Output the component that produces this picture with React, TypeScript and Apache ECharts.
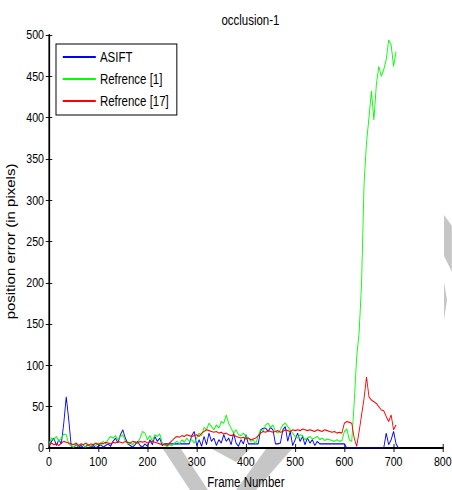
import React, { useEffect, useRef } from "react";
import * as echarts from "echarts";

const FRAME_STEP = 5;
const X_TICKS = [0, 100, 200, 300, 400, 500, 600, 700, 800];
const SERIES_NAMES = ["ASIFT", "Refrence [1]", "Refrence [17]"];

const asift = [
  2, 8, 12, 3, 10, 5, 30, 62, 35, 3,
  0, 4, 1, 3, 0, 2, 4, 1, 3, 0,
  2, 4, 1, 3, 5, 2, 8, 12, 6, 16,
  22, 12, 5, 3, 1, 4, 8, 3, 1, 5,
  2, 10, 4, 14, 8, 12, 3, 5, 5, 5,
  5, 5, 5, 5, 5, 5, 5, 5, 15, 20,
  3, 10, 2, 14, 4, 18, 8, 12, 3, 10,
  6, 16, 8, 12, 4, 18, 6, 2, 10, 5,
  16, 5, 5, 5, 5, 5, 22, 24, 24, 20,
  25, 22, 5, 5, 6, 22, 26, 8, 20, 3,
  10, 18, 8, 14, 4, 12, 6, 10, 3, 8,
  5, 5, 5, 5, 5, 5, 5, 5, 5, 5,
  5, 0, 0, 0, 0, 0, 0, 0, 0, 0,
  0, 0, 0, 0, 0, 0, 0, 18, 4, 10,
  20, 5, 0,
];

const ref1 = [
  5, 12, 10, 14, 8, 12, 17, 16, 5, 3,
  1, 4, 2, 5, 3, 1, 4, 2, 5, 3,
  6, 4, 8, 5, 10, 14, 12, 15, 10, 14,
  16, 8, 5, 6, 4, 8, 6, 12, 20, 18,
  10, 15, 8, 16, 14, 17, 6, 3, 2, 4,
  3, 6, 8, 5, 10, 7, 12, 8, 10, 6,
  12, 18, 15, 25, 22, 30, 26, 22, 28, 24,
  32, 30, 40, 30, 24, 18, 22, 16, 15, 18,
  14, 12, 8, 10, 5, 15, 22, 20, 28, 30,
  25, 28, 20, 18, 22, 28, 30, 26, 22, 18,
  14, 12, 16, 15, 10, 12, 14, 11, 12, 14,
  10, 12, 9, 11, 10, 9, 8, 10, 8, 9,
  20, 23, 10, 8, 55, 110, 140, 200, 320, 370,
  400, 432, 397, 440, 462, 450, 458, 470, 494, 488,
  462, 480, null,
];

const ref17 = [
  3, 6, 4, 5, 3, 6, 8, 7, 6, 5,
  4, 6, 3, 5, 4, 6, 3, 5, 4, 6,
  4, 6, 5, 7, 6, 5, 7, 6, 8, 7,
  6, 8, 7, 6, 8, 7, 6, 8, 7, 8,
  6, 7, 8, 7, 6, 5, 4, 5, 3, 6,
  9, 12, 14, 13, 15, 14, 16, 15, 14, 15,
  16, 14, 18, 20, 22, 21, 20, 19, 20, 18,
  19, 17, 18, 16, 15, 16, 14, 13, 12, 13,
  11, 12, 10, 11, 12, 15, 18, 20, 19, 21,
  20, 19, 20, 21, 19, 20, 22, 21, 20, 22,
  21, 22, 21, 23, 22, 21, 22, 21, 20, 22,
  21, 20, 22, 21, 20, 19, 20, 18, 19, 18,
  30, 32, 31, 30, 12, 2, 20, 40, 60, 86,
  62, 58, 56, 54, 50, 46, 45, 38, 32, 40,
  22, 28, null,
];

const COLORS = ["#0000ff", "#00ff00", "#ff0000"];
const FONT = "'Liberation Sans', Arial, Helvetica, sans-serif";

// The reference figure is horizontally squeezed; draw wider and scale down.
const SX = 0.82;
const W = 452;
const H = 490;
const CW = Math.round(W / SX);
const sx = (x: number) => x / SX;

const toPairs = (vals: (number | null)[]) =>
  vals.map((v, i) => [i * FRAME_STEP, v]);

export default function App() {
  const ref = useRef<HTMLDivElement>(null);
  useEffect(() => {
    if (!ref.current) return;
    const chart = echarts.init(ref.current, null, { renderer: "svg" });
    const axisLine = { show: true, lineStyle: { color: "#000", width: 1.2 } };
    const tick = { show: true, inside: true, length: 4, lineStyle: { color: "#000" } };
    const gray = "#c6c6c6";
    const poly = (pts: number[][]) => ({
      type: "polygon",
      z: -10,
      shape: { points: pts.map(([x, y]) => [sx(x), y]) },
      style: { fill: gray },
    });
    chart.setOption({
      animation: false,
      backgroundColor: "#fff",
      title: {
        text: "occlusion-1",
        left: sx(246) - 35,
        top: 8,
        textStyle: { fontFamily: FONT, fontSize: 14, fontWeight: "normal", color: "#000" },
      },
      grid: {
        left: sx(49),
        right: sx(9),
        top: 35,
        bottom: 42,
        containLabel: false,
        outerBoundsMode: "none",
      },
      legend: {
        orient: "vertical",
        left: sx(56),
        top: 44,
        data: SERIES_NAMES,
        borderColor: "#000",
        borderWidth: 1.2,
        backgroundColor: "#fff",
        padding: [6, sx(8), 7, sx(6)],
        itemWidth: sx(33),
        itemHeight: 14,
        itemGap: 8,
        itemStyle: { opacity: 0 },
        textStyle: { fontFamily: FONT, fontSize: 14, color: "#000" },
      },
      xAxis: [
        {
          type: "value",
          min: 0,
          max: 800,
          interval: 100,
          position: "bottom",
          axisLine: { show: true, lineStyle: { color: "#000", width: 2 } },
          axisTick: tick,
          splitLine: { show: false },
          axisLabel: {
            fontFamily: FONT,
            fontSize: 13,
            color: "#000",
            margin: 7,
            formatter: (v: number) => (X_TICKS.includes(v) ? String(v) : ""),
          },
          name: "Frame Number",
          nameLocation: "middle",
          nameGap: 27,
          nameTextStyle: { fontFamily: FONT, fontSize: 14, color: "#000" },
        },
        {
          type: "value",
          min: 0,
          max: 800,
          interval: 100,
          position: "top",
          axisLine,
          axisTick: tick,
          splitLine: { show: false },
          axisLabel: { show: false },
        },
      ],
      yAxis: [
        {
          type: "value",
          min: 0,
          max: 500,
          interval: 50,
          position: "left",
          axisLine: { show: true, lineStyle: { color: "#000", width: 2 } },
          axisTick: tick,
          splitLine: { show: false },
          axisLabel: { fontFamily: FONT, fontSize: 13, color: "#000", margin: sx(5) },
          name: "position error (in pixels)",
          nameLocation: "middle",
          nameGap: 33,
          nameTextStyle: { fontFamily: FONT, fontSize: 15, color: "#000" },
        },
        {
          type: "value",
          min: 0,
          max: 500,
          interval: 50,
          position: "right",
          axisLine,
          axisTick: tick,
          splitLine: { show: false },
          axisLabel: { show: false },
        },
      ],
      graphic: [
        poly([[163, 449], [181, 449], [208, 490], [190, 490]]),
        poly([[266, 449], [292, 449], [256, 490], [236, 490]]),
        poly([[212, 449], [250, 449], [236, 462]]),
        poly([[444, 215], [452, 226], [452, 272], [444, 256]]),
        poly([[444, 282], [447, 300], [444, 320]]),
      ],
      series: [
        { name: SERIES_NAMES[0], data: toPairs(asift), color: COLORS[0] },
        { name: SERIES_NAMES[1], data: toPairs(ref1), color: COLORS[1] },
        { name: SERIES_NAMES[2], data: toPairs(ref17), color: COLORS[2] },
      ].map((s) => ({
        ...s,
        type: "line",
        symbol: "none",
        showSymbol: false,
        lineStyle: { width: 1.1, color: s.color },
        itemStyle: { color: s.color },
        xAxisIndex: 0,
        yAxisIndex: 0,
      })),
    });
    return () => chart.dispose();
  }, []);
  return (
    <div
      style={{ position: "absolute", left: 0, top: 0, width: W, height: H, overflow: "hidden", background: "#fff" }}
    >
      <div
        ref={ref}
        style={{ width: CW, height: H, transform: `scaleX(${SX})`, transformOrigin: "0 0" }}
      />
    </div>
  );
}
